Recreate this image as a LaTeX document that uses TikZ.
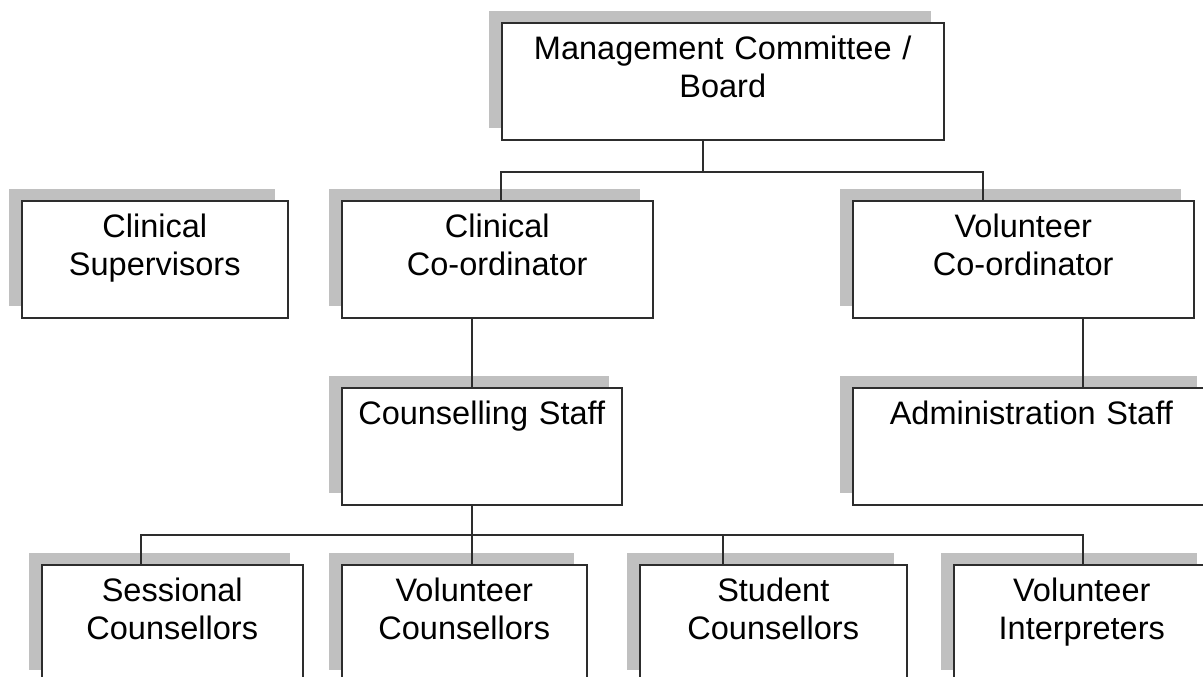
\documentclass[tikz,border=0pt]{standalone}
\usepackage{fontspec}
\setmainfont{Liberation Sans}
\definecolor{shadowgray}{RGB}{192, 192, 192}
\definecolor{linegray}{RGB}{45, 45, 45}
\usetikzlibrary{shadows}

\begin{document}
\begin{tikzpicture}[x=0.02cm, y=-0.02cm,
  orgbox/.style={draw=linegray, line width=0.9pt, fill=white, anchor=north west,
    inner sep=0pt, align=center, font=\fontsize{18.5}{21.5}\selectfont,
    text height=0.74cm, text depth=1.6cm,
    general shadow={fill=shadowgray, shadow xshift=-0.26cm, shadow yshift=0.24cm}},
  link/.style={draw=linegray, line width=0.9pt}]
  \clip (0,0) rectangle (1203,676);

  % Top level
  \node[orgbox, text width=8.84cm] (mgmt) at (501,22) {Management Committee /\\Board};

  % Second level
  \node[orgbox, text width=5.32cm] (clinsup) at (21,200) {Clinical\\Supervisors};
  \node[orgbox, text width=6.22cm] (clincoord) at (341,200) {Clinical\\Co-ordinator};
  \node[orgbox, text width=6.82cm] (volcoord) at (852,200) {Volunteer\\Co-ordinator};

  % Staff
  \node[orgbox, text width=5.6cm] (counsel) at (341,387) {Counselling Staff};
  \node[orgbox, text width=7.14cm] (admin) at (852,387) {Administration Staff};

  % Counsellors
  \node[orgbox, text width=5.22cm] (sessional) at (41,564) {Sessional\\Counsellors};
  \node[orgbox, text width=4.9cm] (volcouns) at (341,564) {Volunteer\\Counsellors};
  \node[orgbox, text width=5.34cm] (student) at (639,564) {Student\\Counsellors};
  \node[orgbox, text width=5.12cm] (interp) at (953,564) {Volunteer\\Interpreters};

  % Connectors
  \coordinate (hubtop) at (703,172);
  \coordinate (dropcc) at (501,172);
  \coordinate (dropvc) at (983,172);
  \coordinate (dropcs) at (472,535);
  \coordinate (dropas) at (1083,350);
  \coordinate (dropses) at (141,535);
  \coordinate (dropstu) at (723,535);
  \coordinate (dropint) at (1083,535);

  \draw[link] (mgmt.south -| hubtop) -- (hubtop);
  \draw[link] (dropcc |- clincoord.north) -- (dropcc) -- (dropvc) -- (dropvc |- volcoord.north);
  \draw[link] (clincoord.south -| dropcs) -- (counsel.north -| dropcs);
  \draw[link] (volcoord.south -| dropas) -- (admin.north -| dropas);
  \draw[link] (counsel.south -| dropcs) -- (dropcs);
  \draw[link] (dropses |- sessional.north) -- (dropses) -- (dropint) -- (dropint |- interp.north);
  \draw[link] (dropcs) -- (dropcs |- volcouns.north);
  \draw[link] (dropstu) -- (dropstu |- student.north);
\end{tikzpicture}
\end{document}
